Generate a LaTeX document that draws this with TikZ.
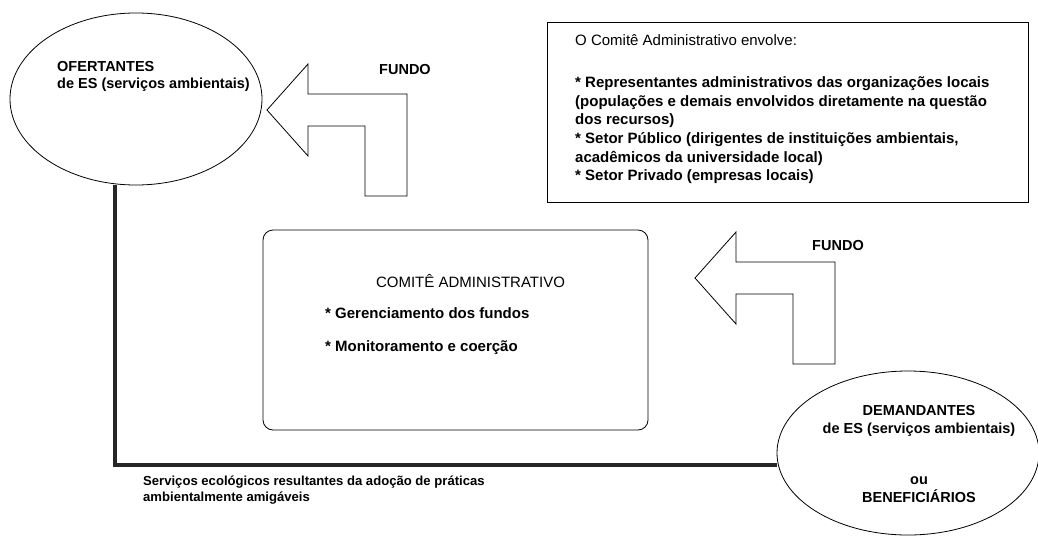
\documentclass[tikz,border=0pt]{standalone}
\usepackage{fontspec}
\setmainfont{Liberation Sans}
\usetikzlibrary{shapes.geometric,positioning}
\tikzset{>=stealth}

\tikzset{
  txt/.style={font=\bfseries\fontsize{15}{18}\selectfont, inner sep=0pt},
  txtthin/.style={font=\fontsize{15}{18}\selectfont, inner sep=0pt},
  actor/.style={draw, ellipse, line width=0.8pt, inner sep=0pt},
  servico/.style={line width=3.2pt, draw=black!85},
  fundo/.pic={
    \draw[line width=0.8pt] (0,0) -- (41,-46) -- (41,-16) -- (140,-16) -- (140,86)
      -- (98,86) -- (98,16) -- (41,16) -- (41,46) -- cycle;
  },
}

\begin{document}
\begin{tikzpicture}[x=1pt,y=-1pt]
    \useasboundingbox (0,0) rectangle (1038,538);
    % ofertantes
    \node[actor, minimum width=252, minimum height=172] (ofert) at (136,99) {};
    \node[txt, anchor=north west, align=left, font=\bfseries\fontsize{14.5}{16.5}\selectfont] (oferttxt) at (57,61.5)
        {OFERTANTES\\de ES (serviços ambientais)};
    % demandantes
    \node[actor, minimum width=262, minimum height=164] (demand) at (908,453) {};
    \node[txt, align=center, font=\bfseries\fontsize{14.5}{18.5}\selectfont] (demandtxt) at (919,454)
        {DEMANDANTES\\de ES (serviços ambientais)\\[32pt]ou\\BENEFICIÁRIOS};
    % comite
    \node[draw, line width=0.8pt, rounded corners=10pt, minimum width=385, minimum height=200] (comite) at (455.5,330) {};
    \node[txtthin] (comitetit) at (470.5,281) {COMITÊ ADMINISTRATIVO};
    \node[txt, anchor=west] (gerenc) at (325,313) {* Gerenciamento dos fundos};
    \node[txt, anchor=west] (monit) at (325,348) {* Monitoramento e coerção};
    % quadro
    \node[draw, line width=0.8pt, minimum width=481, minimum height=180] (quadro) at (787.5,112) {};
    \node[txt, anchor=north west, align=left, font=\bfseries\fontsize{15}{18.6}\selectfont] (quadrotxt) at (575,34)
        {\mdseries O Comitê Administrativo envolve:\\[24pt]
         * Representantes administrativos das organizações locais\\
         (populações e demais envolvidos diretamente na questão\\
         dos recursos)\\
         * Setor Público (dirigentes de instituições ambientais,\\
         acadêmicos da universidade local)\\
         * Setor Privado (empresas locais)};
    % fundos
    \pic at (267,110) {fundo};
    \node[txt, font=\bfseries\fontsize{14.5}{18}\selectfont] (fundo1) at (405,70) {FUNDO};
    \pic at (695,278) {fundo};
    \node[txt, font=\bfseries\fontsize{14.5}{18}\selectfont] (fundo2) at (838,246) {FUNDO};
    % servicos
    \coordinate (canto) at (115,465);
    \draw[servico] (ofert.south -| canto) -- (canto) -- (canto -| demand.west);
    \node[txt, anchor=north west, align=left, font=\bfseries\fontsize{13.1}{16}\selectfont] (servtxt) at (143,476)
        {Serviços ecológicos resultantes da adoção de práticas\\ambientalmente amigáveis};
\end{tikzpicture}
\end{document}
